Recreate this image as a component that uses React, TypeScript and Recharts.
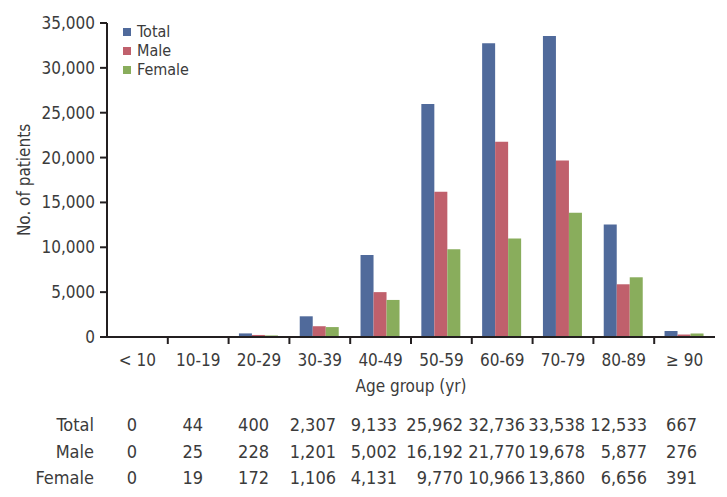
import { BarChart, Bar, XAxis, YAxis, Legend, Label } from "recharts";

const categories = ["< 10", "10-19", "20-29", "30-39", "40-49", "50-59", "60-69", "70-79", "80-89", "≥ 90"];
const totalCounts = [0, 44, 400, 2307, 9133, 25962, 32736, 33538, 12533, 667];
const maleCounts = [0, 25, 228, 1201, 5002, 16192, 21770, 19678, 5877, 276];
const femaleCounts = [0, 19, 172, 1106, 4131, 9770, 10966, 13860, 6656, 391];
const yTicks = [0, 5000, 10000, 15000, 20000, 25000, 30000, 35000];

const seriesRows = [
  { name: "Total", values: totalCounts },
  { name: "Male", values: maleCounts },
  { name: "Female", values: femaleCounts },
];

const data = categories.map((group, i) => ({
  group,
  Total: totalCounts[i],
  Male: maleCounts[i],
  Female: femaleCounts[i],
}));

const FONT = "'Liberation Sans Narrow', 'DejaVu Sans Condensed', 'Arial Narrow', sans-serif";
const INK = "#231f20";
const TEXT = "#3b3b3b";
const COLORS = { Total: "#506a9b", Male: "#c0606c", Female: "#89ad5c" };

// column widths of the count table under the chart
const colWidths = [94, 43, 66, 66, 67, 61, 66, 62, 60, 62, 50];

const fmt = (v: number) => v.toLocaleString("en-US");

const AgeTick = (props: any) => {
  const { x, y, payload, index, width } = props;
  const half = payload.offset ?? width / categories.length / 2;
  return (
    <g>
      {index > 0 && (
        <line x1={x - half} x2={x - half} y1={y - 7} y2={y} stroke={INK} strokeWidth={2} />
      )}
      <text x={x} y={y + 22} textAnchor="middle" fill={TEXT} fontSize={17} fontFamily={FONT}>
        {payload.value}
      </text>
    </g>
  );
};

const YLabel = (props: any) => {
  const vb = props.viewBox;
  return (
    <text
      transform={`translate(24, ${vb.y + vb.height / 2}) rotate(-90)`}
      textAnchor="middle"
      dominantBaseline="central"
      fill={TEXT}
      fontSize={17}
      fontFamily={FONT}
    >
      No. of patients
    </text>
  );
};

const LegendBox = (props: any) => {
  const items = seriesRows
    .map((r) => props.payload.find((p: any) => p.value === r.name))
    .filter(Boolean);
  return (
    <div style={{ fontFamily: FONT, fontSize: 16, color: TEXT }}>
      {items.map((p: any) => (
        <div key={p.value} style={{ display: "flex", alignItems: "center", height: 19 }}>
          <span style={{ width: 8, height: 8, background: p.color, marginRight: 6 }} />
          {p.value}
        </div>
      ))}
    </div>
  );
};

export default function App() {
  return (
    <div style={{ position: "absolute", left: 0, top: 0, width: 727, height: 497, background: "#fff" }}>
      <BarChart
        width={727}
        height={497}
        data={data}
        margin={{ top: 23, right: 12, left: 0, bottom: 100 }}
        barGap={0}
        barCategoryGap="17%"
      >
        <XAxis
          dataKey="group"
          interval={0}
          height={60}
          tickLine={false}
          tickSize={7}
          tickMargin={0}
          axisLine={{ stroke: INK, strokeWidth: 2 }}
          tick={<AgeTick />}
        >
          <Label
            value="Age group (yr)"
            position="insideBottom"
            offset={5}
            fill={TEXT}
            fontSize={17}
            fontFamily={FONT}
          />
        </XAxis>
        <YAxis
          width={107}
          domain={[0, 35000]}
          ticks={yTicks}
          tickFormatter={fmt}
          tickSize={7}
          tickMargin={5}
          axisLine={{ stroke: INK, strokeWidth: 2 }}
          tickLine={{ stroke: INK, strokeWidth: 2 }}
          tick={{ fill: TEXT, fontSize: 17, fontFamily: FONT }}
        >
          <Label content={<YLabel />} />
        </YAxis>
        <Legend
          layout="vertical"
          verticalAlign="middle"
          align="center"
          content={<LegendBox />}
          wrapperStyle={{ left: 123, top: 22, width: 100 }}
        />
        <Bar dataKey="Total" fill={COLORS.Total} isAnimationActive={false} />
        <Bar dataKey="Male" fill={COLORS.Male} isAnimationActive={false} />
        <Bar dataKey="Female" fill={COLORS.Female} isAnimationActive={false} />
      </BarChart>
      <table
        style={{
          position: "absolute",
          left: 0,
          top: 412,
          borderCollapse: "collapse",
          tableLayout: "fixed",
          fontFamily: FONT,
          fontSize: 18,
          color: TEXT,
        }}
      >
        <colgroup>
          {colWidths.map((w, i) => (
            <col key={i} style={{ width: w }} />
          ))}
        </colgroup>
        <tbody>
          {seriesRows.map((row) => (
            <tr key={row.name} style={{ height: 26.5 }}>
              <td style={{ textAlign: "right", padding: 0, lineHeight: "26.5px" }}>{row.name}</td>
              {row.values.map((v, i) => (
                <td key={i} style={{ textAlign: "right", padding: 0, lineHeight: "26.5px" }}>
                  {fmt(v)}
                </td>
              ))}
            </tr>
          ))}
        </tbody>
      </table>
    </div>
  );
}
